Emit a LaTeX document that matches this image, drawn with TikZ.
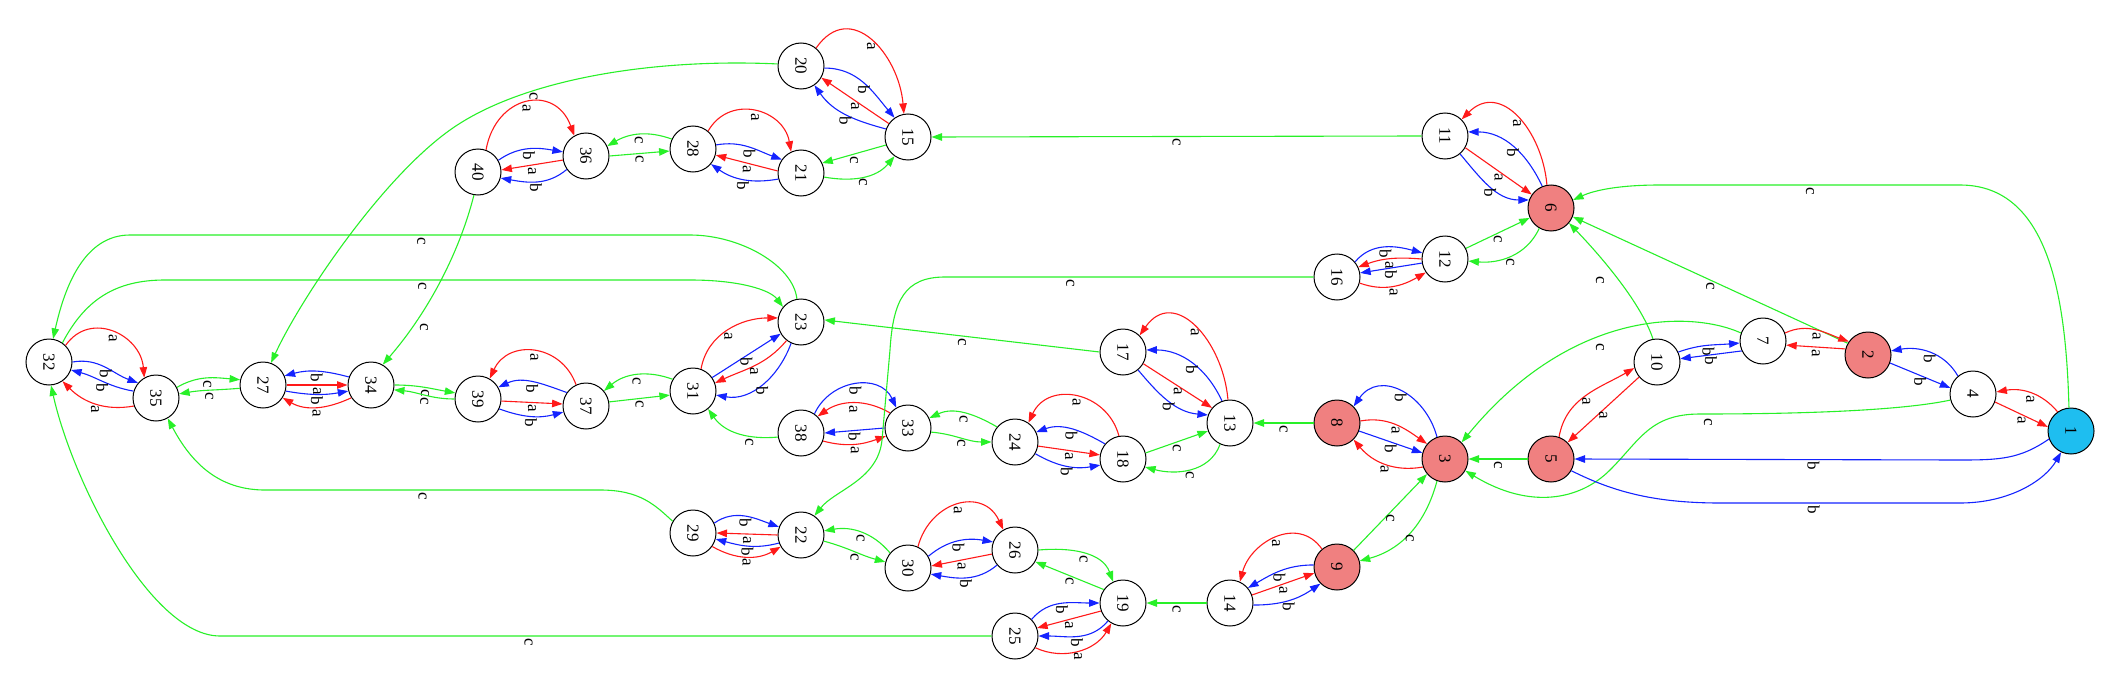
\documentclass[tikz,border=0pt]{standalone}
\usepackage{fontspec}
\setmainfont{Liberation Serif}
\usepackage{graphicx}
\usetikzlibrary{arrows.meta}
\definecolor{cred}{RGB}{255,25,25}
\definecolor{cblue}{RGB}{20,35,255}
\definecolor{cgreen}{RGB}{40,240,40}
\definecolor{lc}{RGB}{240,128,128}
\definecolor{dsb}{RGB}{30,190,240}
\newcommand{\fsz}{\fontsize{17}{17}\selectfont}
\newcommand{\rtx}[1]{\rotatebox[origin=c]{-90}{#1}}
\tikzset{
  st/.style={circle, draw=black, line width=1pt, minimum size=46pt, inner sep=0pt, font=\fsz},
  acc/.style={st, fill=lc},
  ini/.style={st, fill=dsb},
  edg/.style={line width=1.1pt, -{Triangle[length=10.5pt,width=7.5pt]}},
  ea/.style={edg, draw=cred},
  eb/.style={edg, draw=cblue},
  ec/.style={edg, draw=cgreen},
  lab/.style={anchor=north, inner sep=1.5pt, font=\fsz, text=black},
  labc/.style={lab, anchor=center}
}
\begin{document}
\begin{tikzpicture}[x=1pt,y=1pt]
\useasboundingbox (0,-690) rectangle (2124,0);
% nodes
\node[ini] (n1) at (2071,-431) {\rtx{1}};
\node[acc] (n2) at (1868,-355) {\rtx{2}};
\node[acc] (n3) at (1445,-459) {\rtx{3}};
\node[st] (n4) at (1973,-394) {\rtx{4}};
\node[acc] (n5) at (1551,-459) {\rtx{5}};
\node[acc] (n6) at (1551,-208) {\rtx{6}};
\node[st] (n7) at (1763,-341) {\rtx{7}};
\node[acc] (n8) at (1337,-423) {\rtx{8}};
\node[acc] (n9) at (1337,-567) {\rtx{9}};
\node[st] (n10) at (1657,-362) {\rtx{10}};
\node[st] (n11) at (1445,-136) {\rtx{11}};
\node[st] (n12) at (1445,-259) {\rtx{12}};
\node[st] (n13) at (1230,-423) {\rtx{13}};
\node[st] (n14) at (1230,-603) {\rtx{14}};
\node[st] (n15) at (908,-137) {\rtx{15}};
\node[st] (n16) at (1337,-277) {\rtx{16}};
\node[st] (n17) at (1123,-352) {\rtx{17}};
\node[st] (n18) at (1123,-459) {\rtx{18}};
\node[st] (n19) at (1123,-603) {\rtx{19}};
\node[st] (n20) at (801,-66) {\rtx{20}};
\node[st] (n21) at (801,-173) {\rtx{21}};
\node[st] (n22) at (801,-535) {\rtx{22}};
\node[st] (n23) at (801,-322) {\rtx{23}};
\node[st] (n24) at (1015,-442) {\rtx{24}};
\node[st] (n25) at (1015,-636) {\rtx{25}};
\node[st] (n26) at (1015,-550) {\rtx{26}};
\node[st] (n27) at (263,-385) {\rtx{27}};
\node[st] (n28) at (693,-149) {\rtx{28}};
\node[st] (n29) at (693,-533) {\rtx{29}};
\node[st] (n30) at (908,-568) {\rtx{30}};
\node[st] (n31) at (693,-391) {\rtx{31}};
\node[st] (n32) at (49,-362) {\rtx{32}};
\node[st] (n33) at (908,-428) {\rtx{33}};
\node[st] (n34) at (371,-385) {\rtx{34}};
\node[st] (n35) at (156,-398) {\rtx{35}};
\node[st] (n36) at (586,-156) {\rtx{36}};
\node[st] (n37) at (586,-406) {\rtx{37}};
\node[st] (n38) at (801,-433) {\rtx{38}};
\node[st] (n39) at (478,-399) {\rtx{39}};
\node[st] (n40) at (478,-172) {\rtx{40}};
% 32 - 35
\draw[ea] (n32.45) to[out=55,in=95,looseness=1.3] node[lab]{\rtx{a}} (n35.120);
\draw[eb] (n32.0) to[out=10,in=160] node[lab]{\rtx{b}} (n35.140);
\draw[eb] (n35.163) to[out=170,in=-15] node[lab]{\rtx{b}} (n32.-20);
\draw[ea] (n35.200) to[out=190,in=-45] node[lab]{\rtx{a}} (n32.-55);
% 35 - 27
\draw[ec] (n35.27) to[out=30,in=175] node[lab]{\rtx{c}} (n27.167);
\draw[ec] (n27.188) to[out=185,in=10] node[lab]{\rtx{c}} (n35.10);
% 27 - 34
\draw[eb] (n34.160) to[out=165,in=15] node[lab]{\rtx{b}} (n27.23);
\draw[ea] (n27.0) -- node[lab]{\rtx{a}} (n34.180);
\draw[eb] (n27.-15) to[out=-10,in=190] node[lab]{\rtx{b}} (n34.195);
\draw[ea] (n34.213) to[out=205,in=-30] node[lab]{\rtx{a}} (n27.-33);
% 34 - 39
\draw[ec] (n34.0) to[out=0,in=170] node[lab]{\rtx{c}} (n39.165);
\draw[ec] (n39.180) to[out=180,in=-5] node[lab]{\rtx{c}} (n34.-12);
% 39 - 37
\draw[ea] (n37.115) to[out=110,in=65,looseness=1.3] node[lab]{\rtx{a}} (n39.60);
\draw[eb] (n37.145) to[out=160,in=25] node[lab]{\rtx{b}} (n39.30);
\draw[ea] (n39.-5) -- node[lab]{\rtx{a}} (n37.175);
\draw[eb] (n39.-25) to[out=-20,in=195] node[lab]{\rtx{b}} (n37.195);
% 37 - 31
\draw[ec] (n31.150) to[out=160,in=40] node[lab]{\rtx{c}} (n37.40);
\draw[ec] (n37.10) -- node[lab]{\rtx{c}} (n31.190);
% 31 - 23
\draw[ea] (n31.70) to[out=80,in=180] node[lab]{\rtx{a}} (n23.170);
\draw[eb] (n31.35) -- node[lab]{\rtx{b}} (n23.210);
\draw[ea] (n23.232) to[out=230,in=25] node[lab]{\rtx{a}} (n31.20);
\draw[eb] (n23.245) to[out=250,in=-10] node[lab]{\rtx{b}} (n31.-10);
% 38 - 33
\draw[eb] (n38.55) to[out=65,in=115,looseness=1.2] node[lab]{\rtx{b}} (n33.120);
\draw[ea] (n33.140) to[out=150,in=35] node[lab]{\rtx{a}} (n38.45);
\draw[eb] (n33.180) -- node[lab]{\rtx{b}} (n38.0);
\draw[ea] (n38.-20) to[out=-15,in=200] node[lab]{\rtx{a}} (n33.200);
\draw[ec] (n38.190) to[out=185,in=-55] node[lab,pos=.35]{\rtx{c}} (n31.-50);
\draw[ec] (n17.180) -- node[lab]{\rtx{c}} (n23.5);
% 33 - 24
\draw[ec] (n24.140) to[out=150,in=25] node[lab]{\rtx{c}} (n33.25);
\draw[ec] (n33.-10) to[out=-5,in=180] node[lab]{\rtx{c}} (n24.180);
% 24 - 18
\draw[ea] (n18.100) to[out=105,in=65,looseness=1.3] node[lab]{\rtx{a}} (n24.55);
\draw[eb] (n18.140) to[out=150,in=20] node[lab]{\rtx{b}} (n24.25);
\draw[ea] (n24.-10) -- node[lab]{\rtx{a}} (n18.170);
\draw[eb] (n24.-30) to[out=-30,in=190] node[lab]{\rtx{b}} (n18.195);
% 17 - 13
\draw[ea] (n13.95) to[out=95,in=55,looseness=1.4] node[lab]{\rtx{a}} (n17.45);
\draw[eb] (n13.110) to[out=115,in=0] node[lab]{\rtx{b}} (n17.5);
\draw[ea] (n17.-30) -- node[lab]{\rtx{a}} (n13.140);
\draw[eb] (n17.-50) to[out=-50,in=175] node[lab]{\rtx{b}} (n13.160);
% 18 - 13
\draw[ec] (n18.15) -- node[lab]{\rtx{c}} (n13.200);
\draw[ec] (n13.-115) to[out=-110,in=-15] node[lab]{\rtx{c}} (n18.-20);
\draw[ec] (n8.180) -- node[lab]{\rtx{c}} (n13.0);
% 8 - 3
\draw[eb] (n3.110) to[out=105,in=55,looseness=1.3] node[lab]{\rtx{b}} (n8.45);
\draw[ea] (n8.5) to[out=10,in=145] node[lab]{\rtx{a}} (n3.140);
\draw[eb] (n8.-20) -- node[lab]{\rtx{b}} (n3.165);
\draw[ea] (n3.200) to[out=190,in=-50] node[lab]{\rtx{a}} (n8.-45);
% 9 - 3
\draw[ec] (n9.45) -- node[lab]{\rtx{c}} (n3.220);
\draw[ec] (n3.250) to[out=255,in=15] node[lab]{\rtx{c}} (n9.15);
% 9 - 14
\draw[ea] (n9.130) to[out=125,in=75,looseness=1.2] node[lab]{\rtx{a}} (n14.65);
\draw[eb] (n9.175) to[out=180,in=30] node[lab]{\rtx{b}} (n14.40);
\draw[ea] (n14.20) -- node[lab]{\rtx{a}} (n9.195);
\draw[eb] (n14.-5) to[out=0,in=215] node[lab]{\rtx{b}} (n9.225);
\draw[ec] (n14.180) -- node[lab]{\rtx{c}} (n19.0);
% 6 - 11
\draw[ea] (n6.100) to[out=95,in=45,looseness=1.3] node[lab]{\rtx{a}} (n11.45);
\draw[eb] (n6.112) to[out=115,in=0] node[lab]{\rtx{b}} (n11.10);
\draw[ea] (n11.-30) -- node[lab]{\rtx{a}} (n6.145);
\draw[eb] (n11.-50) to[out=-50,in=180] node[lab]{\rtx{b}} (n6.160);
% 12 - 6
\draw[ec] (n12.27) -- node[lab]{\rtx{c}} (n6.205);
\draw[ec] (n6.-120) to[out=-115,in=-5] node[lab]{\rtx{c}} (n12.-5);
% 16 - 12
\draw[eb] (n16.40) to[out=50,in=165] node[lab]{\rtx{b}} (n12.165);
\draw[ea] (n12.180) to[out=175,in=20] node[lab]{\rtx{a}} (n16.25);
\draw[eb] (n12.190) -- node[lab]{\rtx{b}} (n16.10);
\draw[ea] (n16.-15) to[out=-20,in=210] node[lab]{\rtx{a}} (n12.215);
\draw[ec] (n16.180) -- node[lab,pos=.66]{\rtx{c}} (945,-277) .. controls (905,-277) and (893,-300) .. (890,-350) -- (882,-440) .. controls (878,-480) and (835,-490) .. (n22.55);
% 29 - 22
\draw[eb] (n29.25) to[out=35,in=160] node[lab]{\rtx{b}} (n22.160);
\draw[ea] (n22.180) -- node[lab]{\rtx{a}} (n29.0);
\draw[eb] (n22.200) to[out=195,in=-15] node[lab]{\rtx{b}} (n29.-15);
\draw[ea] (n29.-35) to[out=-30,in=210] node[lab]{\rtx{a}} (n22.210);
% 22 - 30
\draw[ec] (n30.140) to[out=130,in=10] node[lab]{\rtx{c}} (n22.10);
\draw[ec] (n22.-15) to[out=-15,in=165] node[lab]{\rtx{c}} (n30.165);
% 30 - 26
\draw[ea] (n30.65) to[out=75,in=115,looseness=1.4] node[lab]{\rtx{a}} (n26.120);
\draw[eb] (n30.30) to[out=40,in=170] node[lab]{\rtx{b}} (n26.160);
\draw[ea] (n26.190) -- node[lab]{\rtx{a}} (n30.5);
\draw[eb] (n26.220) to[out=220,in=-10] node[lab]{\rtx{b}} (n30.-15);
% 26 - 19
\draw[ec] (n26.0) to[out=5,in=110] node[lab]{\rtx{c}} (n19.115);
\draw[ec] (n19.145) -- node[lab]{\rtx{c}} (n26.-30);
% 25 - 19
\draw[eb] (n25.45) to[out=50,in=180] node[lab]{\rtx{b}} (n19.180);
\draw[ea] (n19.200) -- node[lab]{\rtx{a}} (n25.20);
\draw[eb] (n19.230) to[out=230,in=0] node[lab]{\rtx{b}} (n25.0);
\draw[ea] (n25.-30) to[out=-25,in=240] node[lab]{\rtx{a}} (n19.240);
% long c edges on the left
\draw[ec] (n25.180) -- node[lab,pos=.6]{\rtx{c}} (220,-636) .. controls (150,-636) and (72,-480) .. (n32.-85);
\draw[ec] (n29.150) .. controls (655,-505) and (640,-490) .. (600,-490) -- node[lab,pos=.53]{\rtx{c}} (265,-490) .. controls (225,-490) and (195,-470) .. (n35.-60);
\draw[ec] (n20.175) .. controls (650,-58) and (520,-80) .. node[lab,pos=.68]{\rtx{c}} (450,-130) .. controls (380,-180) and (300,-300) .. (n27.70);
\draw[ec] (n40.-100) .. controls (460,-250) and (430,-310) .. (n34.60) node[labc] at (424,-327) {\rtx{c}};
\draw[ec] (n23.100) .. controls (793,-265) and (740,-235) .. (690,-235) -- node[lab,pos=.48]{\rtx{c}} (130,-235) .. controls (85,-235) and (65,-285) .. (n32.80);
\draw[ec] (n32.55) .. controls (85,-300) and (115,-280) .. (165,-280) -- node[lab,pos=.49]{\rtx{c}} (690,-280) .. controls (740,-280) and (770,-290) .. (n23.140);
\draw[ec] (n11.180) -- node[lab]{\rtx{c}} (n15.0);
% 40 - 36
\draw[ea] (n40.70) to[out=80,in=110,looseness=1.6] node[lab]{\rtx{a}} (n36.120);
\draw[eb] (n40.30) to[out=35,in=170] node[lab]{\rtx{b}} (n36.170);
\draw[ea] (n36.190) -- node[lab]{\rtx{a}} (n40.5);
\draw[eb] (n36.215) to[out=220,in=-10] node[lab]{\rtx{b}} (n40.-15);
% 36 - 28
\draw[ec] (n28.155) to[out=160,in=30] node[lab]{\rtx{c}} (n36.25);
\draw[ec] (n36.0) -- node[lab]{\rtx{c}} (n28.185);
% 28 - 21
\draw[ea] (n28.50) to[out=60,in=100,looseness=1.3] node[lab]{\rtx{a}} (n21.115);
\draw[eb] (n28.10) to[out=10,in=160] node[lab]{\rtx{b}} (n21.145);
\draw[ea] (n21.175) -- node[lab]{\rtx{a}} (n28.-15);
\draw[eb] (n21.195) to[out=190,in=-35] node[lab]{\rtx{b}} (n28.-40);
% 21 - 15
\draw[ec] (n15.200) -- node[lab]{\rtx{c}} (n21.25);
\draw[ec] (n21.-10) to[out=-10,in=230] node[lab]{\rtx{c}} (n15.235);
% 20 - 15
\draw[ea] (n20.50) to[out=55,in=95,looseness=1.4] node[lab]{\rtx{a}} (n15.100);
\draw[eb] (n20.-5) to[out=0,in=130] node[lab]{\rtx{b}} (n15.125);
\draw[ea] (n15.145) -- node[lab]{\rtx{a}} (n20.-30);
\draw[eb] (n15.160) to[out=165,in=-55] node[lab]{\rtx{b}} (n20.-55);
% right part
\draw[ec] (n1.95) .. controls (2066,-300) and (2050,-185) .. (1960,-185) -- node[lab]{\rtx{c}} (1660,-185) .. controls (1620,-185) and (1595,-190) .. (n6.20);
\draw[ec] (n2.150) -- node[lab]{\rtx{c}} (n6.-22);
\draw[ec] (n10.100) .. controls (1640,-300) and (1595,-250) .. (n6.-40) node[labc] at (1600,-280) {\rtx{c}};
\draw[ec] (n7.160) .. controls (1690,-310) and (1570,-310) .. (n3.45) node[labc] at (1600,-347) {\rtx{c}};
\draw[ec] (n4.195) .. controls (1890,-413) and (1760,-414) .. (1700,-414) .. controls (1650,-414) and (1640,-440) .. (1610,-470) .. controls (1580,-500) and (1530,-510) .. (n3.-30) node[labc] at (1708,-422) {\rtx{c}};
\draw[eb] (n1.200) .. controls (2020,-459) and (2000,-460) .. (1960,-460) -- node[lab,pos=.38]{\rtx{b}} (n5.0);
\draw[eb] (n5.-30) .. controls (1610,-490) and (1650,-503) .. (1720,-503) -- node[lab,pos=.39]{\rtx{b}} (1960,-503) .. controls (2010,-503) and (2045,-480) .. (n1.-115);
\draw[ec] (n5.180) -- node[lab]{\rtx{c}} (n3.0);
\draw[ea] (n5.70) to[out=80,in=210] node[lab]{\rtx{a}} (n10.195);
\draw[ea] (n10.220) -- node[lab]{\rtx{a}} (n5.45);
\draw[eb] (n10.25) to[out=20,in=185] node[lab]{\rtx{b}} (n7.185);
\draw[eb] (n7.205) -- node[lab]{\rtx{b}} (n10.8);
\draw[ea] (n7.20) to[out=25,in=160] node[lab]{\rtx{a}} (n2.145);
\draw[ea] (n2.165) -- node[lab]{\rtx{a}} (n7.-10);
\draw[eb] (n4.130) to[out=120,in=10] node[lab]{\rtx{b}} (n2.10);
\draw[eb] (n2.-20) -- node[lab]{\rtx{b}} (n4.165);
\draw[ea] (n1.125) to[out=130,in=10] node[lab]{\rtx{a}} (n4.5);
\draw[ea] (n4.-20) -- node[lab]{\rtx{a}} (n1.170);
\end{tikzpicture}
\end{document}
